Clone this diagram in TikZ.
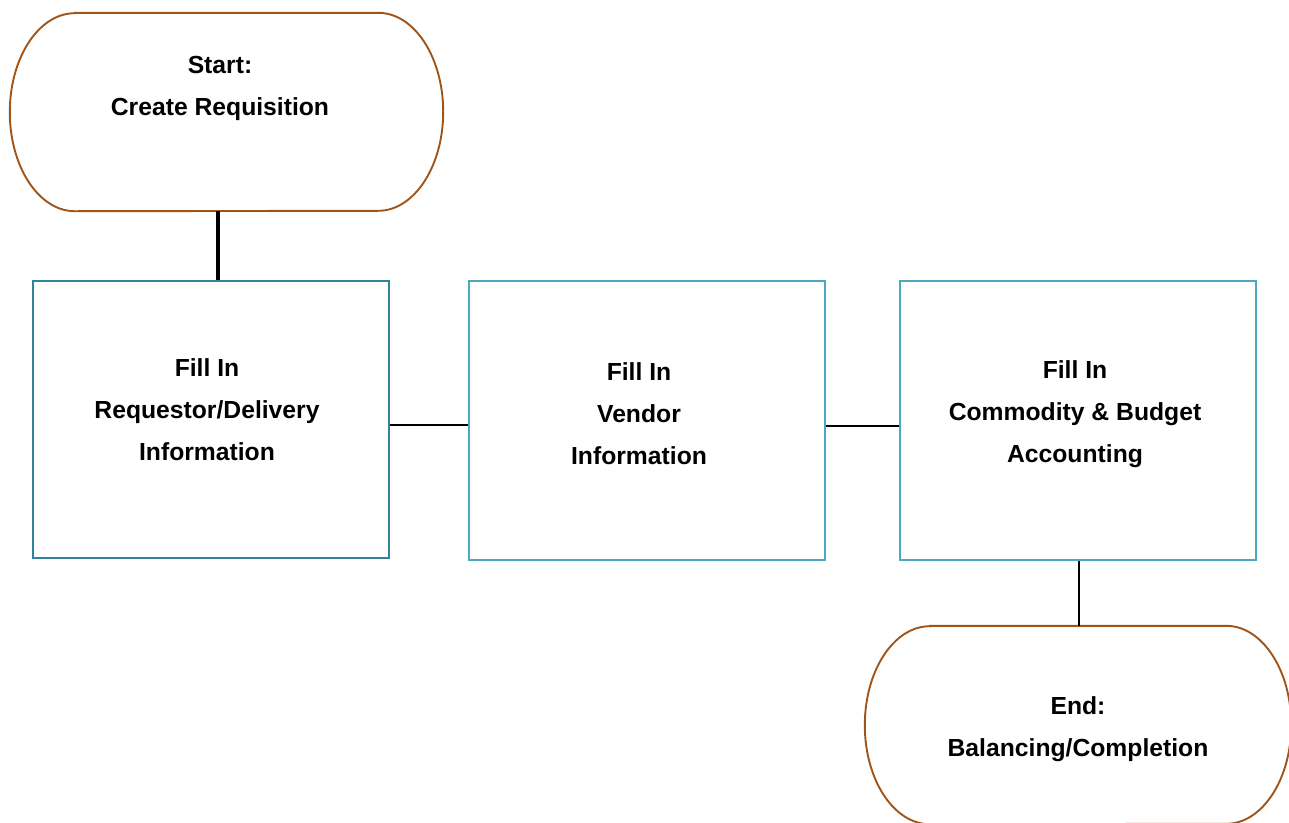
\documentclass[tikz,border=0pt]{standalone}
\usepackage{fontspec}
\setmainfont{Liberation Sans}
\definecolor{termbrown}{RGB}{160,84,24}
\definecolor{boxteal}{RGB}{49,133,155}
\definecolor{boxlight}{RGB}{80,168,192}
\begin{document}
\begin{tikzpicture}[x=1pt,y=-1pt,
  termshape/.style={inner sep=0pt, minimum width=#1, minimum height=198pt},
  termline/.style={draw=termbrown, line width=1.9pt},
  boxdark/.style={draw=boxteal, line width=2.8pt, inner sep=0pt, minimum width=356pt, minimum height=277pt},
  boxlt/.style={draw=boxlight, line width=2pt, inner sep=0pt, minimum width=356pt, minimum height=279pt},
  lbl/.style={align=center, font=\bfseries\fontsize{24.7}{42}\selectfont, inner sep=0pt},
  conn/.style={draw=black, line width=3.1pt}]
\useasboundingbox (0,0) rectangle (1289,822);
\clip (0,0) rectangle (1289,822);

% start terminal
\node[termshape=433pt] (start) at (226.5,112) {};
\draw[termline] ([xshift=65pt]start.north west) -- ([xshift=-65pt]start.north east)
  arc[start angle=90, end angle=-90, x radius=65pt, y radius=99pt]
  -- ([xshift=65pt]start.south west)
  arc[start angle=270, end angle=90, x radius=65pt, y radius=99pt] -- cycle;
\node[lbl] (startt) at (220,88.5) {Start:\\Create Requisition};

% process boxes
\node[boxdark] (b1) at (211,419.5) {};
\node[lbl] (b1t) at (207,409.5) {Fill In\\Requestor/Delivery\\Information};
\node[boxlt] (b2) at (647,420.5) {};
\node[lbl] (b2t) at (639,413.5) {Fill In\\Vendor\\Information};
\node[boxlt] (b3) at (1077.5,420.5) {};
\node[lbl] (b3t) at (1075,414) {Fill In\\Commodity \& Budget\\Accounting};

% end terminal
\node[termshape=426pt] (end) at (1078,725) {};
\draw[termline] ([xshift=65pt]end.north west) -- ([xshift=-65pt]end.north east)
  arc[start angle=90, end angle=-90, x radius=65pt, y radius=99pt]
  -- ([xshift=65pt]end.south west)
  arc[start angle=270, end angle=90, x radius=65pt, y radius=99pt] -- cycle;
\node[lbl] (endt) at (1078,729) {End:\\Balancing/Completion};

% connectors
\coordinate (v1) at (218,0);
\coordinate (h1) at (0,425);
\coordinate (h2) at (0,426);
\coordinate (v2) at (1079,0);
\draw[conn] (start.south -| v1) -- (b1.north -| v1);
\draw[conn, line width=2.7pt] (b1.east |- h1) -- (b2.west |- h1);
\draw[conn, line width=2.4pt] (b2.east |- h2) -- (b3.west |- h2);
\draw[conn, line width=2.8pt] (b3.south -| v2) -- (end.north -| v2);
\end{tikzpicture}
\end{document}
